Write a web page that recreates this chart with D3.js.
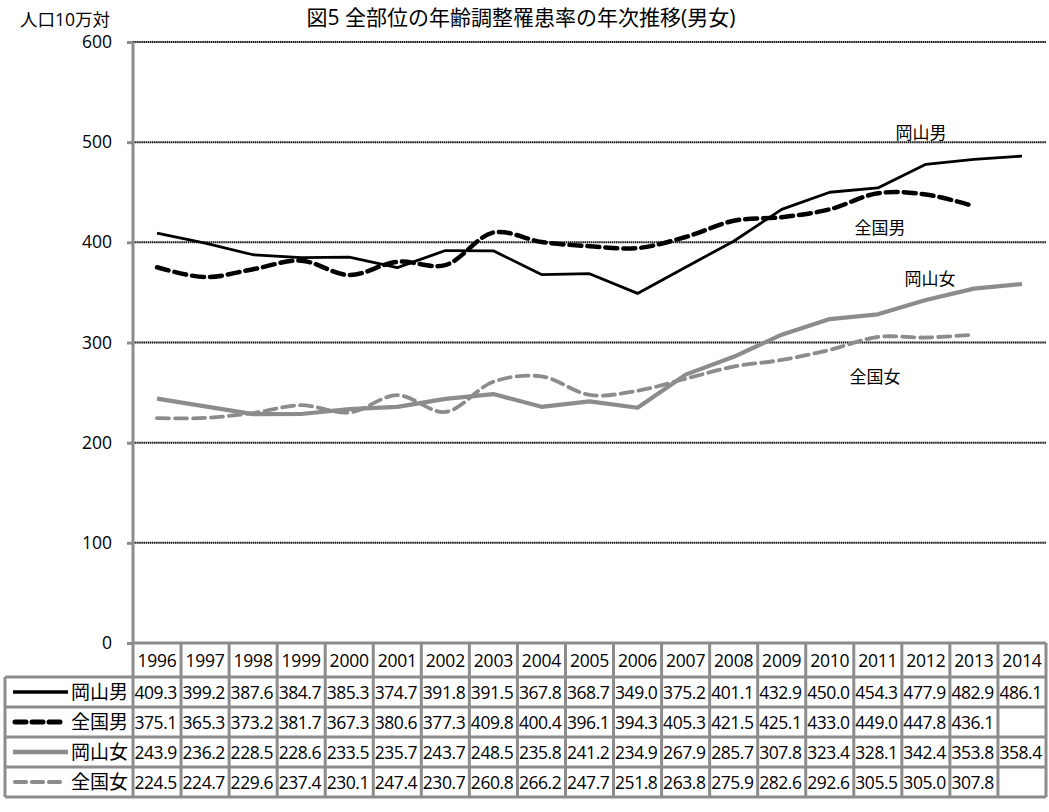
<!DOCTYPE html>
<html>
<head>
<meta charset="utf-8">
<script src="https://cdn.jsdelivr.net/npm/d3@7"></script>
<style>
  html, body { margin: 0; padding: 0; background: #fff; }
  svg { display: block; }
  text { font-family: "Open Sans", "Noto Sans CJK JP", sans-serif; fill: #000; }
</style>
</head>
<body>
<svg id="chart" width="1049" height="812"></svg>
<script>
// Years and rates per 100,000 population
const years = ["1996","1997","1998","1999","2000","2001","2002","2003","2004","2005","2006","2007","2008","2009","2010","2011","2012","2013","2014"];
const okayamaMale   = [409.3,399.2,387.6,384.7,385.3,374.7,391.8,391.5,367.8,368.7,349.0,375.2,401.1,432.9,450.0,454.3,477.9,482.9,486.1];
const nationalMale  = [375.1,365.3,373.2,381.7,367.3,380.6,377.3,409.8,400.4,396.1,394.3,405.3,421.5,425.1,433.0,449.0,447.8,436.1,null];
const okayamaFemale = [243.9,236.2,228.5,228.6,233.5,235.7,243.7,248.5,235.8,241.2,234.9,267.9,285.7,307.8,323.4,328.1,342.4,353.8,358.4];
const nationalFemale= [224.5,224.7,229.6,237.4,230.1,247.4,230.7,260.8,266.2,247.7,251.8,263.8,275.9,282.6,292.6,305.5,305.0,307.8,null];
const seriesNames = ["岡山男","全国男","岡山女","全国女"];
const yTicks = [0,100,200,300,400,500,600];

const series = [
  { name: seriesNames[0], values: okayamaMale,    color: "#000",    width: 2.8, keyWidth: 3.5, dash: null,   smooth: false, label: [921, 139] },
  { name: seriesNames[1], values: nationalMale,   color: "#000",    width: 4.5, keyWidth: 5,   dash: "12,6", smooth: true,  label: [880, 234] },
  { name: seriesNames[2], values: okayamaFemale,  color: "#8c8c8c", width: 4.2, keyWidth: 4.5, dash: null,   smooth: false, label: [930, 285] },
  { name: seriesNames[3], values: nationalFemale, color: "#8c8c8c", width: 3.8, keyWidth: 4.2, dash: "12,6", smooth: true,  label: [875, 383] }
];

const svg = d3.select("#chart");
const plotLeft = 133, plotRight = 1046, plotTop = 42, plotBottom = 643;
const gray = "#8c8c8c";

const x = d3.scaleBand().domain(years).range([plotLeft, plotRight]);
const y = d3.scaleLinear().domain([0, 600]).range([plotBottom, plotTop]);

// Title
svg.append("text")
  .attr("x", 521).attr("y", 25)
  .attr("text-anchor", "middle")
  .style("font-size", "21px")
  .text("図5 全部位の年齢調整罹患率の年次推移(男女)");

// Unit label
svg.append("text")
  .attr("x", 20).attr("y", 26)
  .style("font-size", "17.5px")
  .text("人口10万対");

// Horizontal gridlines
svg.append("g").selectAll("line")
  .data(yTicks.filter(d => d > 0))
  .join("line")
  .attr("x1", plotLeft).attr("x2", plotRight)
  .attr("y1", d => y(d)).attr("y2", d => y(d))
  .attr("stroke", "#111").attr("stroke-width", 2)
  .attr("stroke-dasharray", "1.5,0.6");

// Y axis
const yAxis = svg.append("g")
  .attr("transform", `translate(${plotLeft},0)`)
  .call(d3.axisLeft(y).tickValues(yTicks).tickSize(6).tickPadding(15).tickFormat(d3.format("d")));
yAxis.select(".domain").remove();
yAxis.selectAll(".tick line").attr("stroke", gray).attr("stroke-width", 3);
yAxis.selectAll(".tick text")
  .style("font-size", "17.5px")
  .style("font-family", "'Open Sans', sans-serif")
  .attr("fill", "#000");
svg.append("line")
  .attr("x1", plotLeft).attr("x2", plotLeft)
  .attr("y1", plotTop).attr("y2", plotBottom)
  .attr("stroke", gray).attr("stroke-width", 3);

// Series lines with their labels
series.forEach(s => {
  const line = d3.line()
    .defined(d => d != null)
    .x((d, i) => x(years[i]) + x.bandwidth() / 2)
    .y(d => y(d))
    .curve(s.smooth ? d3.curveCatmullRom.alpha(0.5) : d3.curveLinear);
  svg.append("path")
    .datum(s.values)
    .attr("d", line)
    .attr("fill", "none")
    .attr("stroke", s.color)
    .attr("stroke-width", s.width)
    .attr("stroke-linejoin", "round")
    .attr("stroke-linecap", s.dash ? "round" : "butt")
    .attr("stroke-dasharray", s.dash);
  svg.append("text")
    .attr("x", s.label[0]).attr("y", s.label[1])
    .attr("text-anchor", "middle")
    .style("font-size", "17px")
    .text(s.name);
});

// Data table below the plot
const headerTop = plotBottom, headerH = 34, rowH = 30, legendLeft = 5;
const rowTop = i => headerTop + headerH + i * rowH;
const tableBottom = rowTop(series.length);
const tbl = svg.append("g");

// header cells
tbl.selectAll("text.year")
  .data(years)
  .join("text")
  .attr("class", "year")
  .attr("x", d => x(d) + x.bandwidth() / 2)
  .attr("y", headerTop + headerH / 2 + 7)
  .attr("text-anchor", "middle")
  .style("font-size", "17.5px")
  .style("letter-spacing", "-0.2px")
  .text(d => d);

// value cells and legend keys
series.forEach((s, r) => {
  tbl.append("g").selectAll("text")
    .data(s.values.map((v, i) => ({ v, yr: years[i] })).filter(d => d.v != null))
    .join("text")
    .attr("x", d => x(d.yr) + 1.5)
    .attr("y", rowTop(r) + rowH / 2 + 6.5)
    .style("font-size", "17.5px")
    .style("letter-spacing", "-0.45px")
    .text(d => d.v.toFixed(1));

  const cy = rowTop(r) + rowH / 2;
  tbl.append("line")
    .attr("x1", s.dash ? 15 : 13).attr("x2", s.dash ? 60 : 68)
    .attr("y1", cy).attr("y2", cy)
    .attr("stroke", s.color)
    .attr("stroke-width", s.keyWidth)
    .attr("stroke-linecap", s.dash ? "round" : "butt")
    .attr("stroke-dasharray", s.dash ? "11,6" : null);
  tbl.append("text")
    .attr("x", 128).attr("y", cy + 7)
    .attr("text-anchor", "end")
    .style("font-size", "19px")
    .text(s.name);
});

// table grid
const gridColor = gray, gw = 3;
tbl.append("line").attr("x1", plotLeft).attr("x2", plotRight).attr("y1", headerTop).attr("y2", headerTop)
  .attr("stroke", gridColor).attr("stroke-width", 3);
d3.range(series.length + 1).forEach(i => {
  tbl.append("line")
    .attr("x1", legendLeft).attr("x2", plotRight)
    .attr("y1", rowTop(i)).attr("y2", rowTop(i))
    .attr("stroke", gridColor).attr("stroke-width", gw);
});
years.concat(["end"]).forEach((d, i) => {
  const xx = i < years.length ? x(d) : plotRight;
  tbl.append("line")
    .attr("x1", xx).attr("x2", xx)
    .attr("y1", headerTop).attr("y2", tableBottom)
    .attr("stroke", gridColor).attr("stroke-width", gw);
});
tbl.append("line")
  .attr("x1", legendLeft).attr("x2", legendLeft)
  .attr("y1", rowTop(0)).attr("y2", tableBottom)
  .attr("stroke", gridColor).attr("stroke-width", gw);
</script>
</body>
</html>
